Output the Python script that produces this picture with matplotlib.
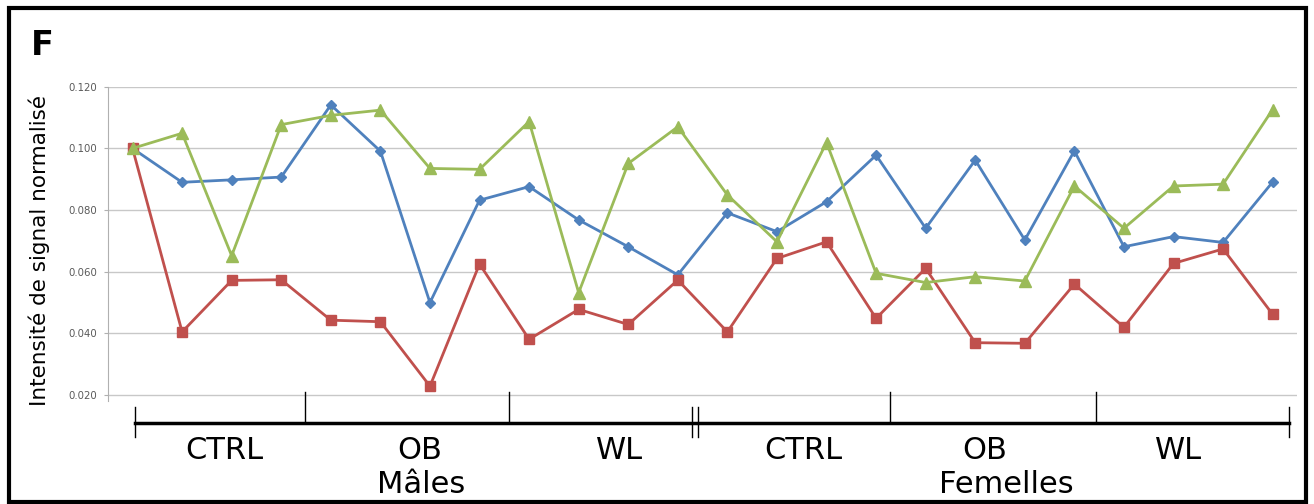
import numpy as np
import matplotlib
matplotlib.use("Agg")
import matplotlib.pyplot as plt
from matplotlib.patches import Rectangle

# values (24 samples, males then females)
blue = [0.100, 0.089, 0.0898, 0.0907, 0.1141, 0.0991, 0.0500, 0.0832,
        0.0876, 0.0768, 0.0681, 0.0590, 0.0791, 0.0730, 0.0827, 0.0978,
        0.0741, 0.0962, 0.0703, 0.0992, 0.0681, 0.0714, 0.0695, 0.0891]
red = [0.100, 0.0405, 0.0572, 0.0574, 0.0443, 0.0438, 0.0229, 0.0625,
       0.0381, 0.0478, 0.0429, 0.0573, 0.0405, 0.0643, 0.0697, 0.0449,
       0.0611, 0.0370, 0.0368, 0.0560, 0.0420, 0.0627, 0.0674, 0.0462]
green = [0.100, 0.1049, 0.0652, 0.1077, 0.1107, 0.1124, 0.0935, 0.0932,
         0.1087, 0.0532, 0.0951, 0.1070, 0.0849, 0.0697, 0.1019, 0.0595,
         0.0565, 0.0584, 0.0570, 0.0878, 0.0741, 0.0878, 0.0884, 0.1126]

yticks = [0.020, 0.040, 0.060, 0.080, 0.100, 0.120]
groups = ["CTRL", "OB", "WL", "CTRL", "OB", "WL"]
sexes = ["Mâles", "Femelles"]

# hand drawn bracket under the chart (x in sample units)
group_pos = [1.86, 5.79, 9.82, 13.53, 17.2, 21.1]
sex_pos = [5.83, 17.63]
inner_ticks = [3.48, 7.59, 15.29, 19.43]
outer_ticks = [0.05, 11.29, 11.41, 23.32]

plt.rcParams['font.family'] = ['DejaVu Sans']

fig = plt.figure(figsize=(13.14, 5.04), dpi=100)
ax = fig.add_axes([0.082, 0.2044, 0.9054, 0.6236])

x = np.arange(len(blue))
ax.plot(x, blue, color='#4F81BD', lw=2, marker='D', ms=5.5, zorder=3)
ax.plot(x, red, color='#C0504D', lw=2, marker='s', ms=7, zorder=3)
ax.plot(x, green, color='#9BBB59', lw=2, marker='^', ms=8, zorder=3)

ax.set_xlim(-0.5, len(blue) - 0.5)
ax.set_ylim(0.0181, 0.120)
ax.set_yticks(yticks)
ax.set_yticklabels(['{:.3f}'.format(v) for v in yticks])
ax.set_xticks([])
ax.grid(axis='y', color='#c8c8c8', lw=1.0)
ax.set_axisbelow(True)
for s in ['top', 'right', 'bottom']:
    ax.spines[s].set_visible(False)
ax.spines['left'].set_color('#b0b0b0')
ax.tick_params(axis='y', length=3, color='#b0b0b0', labelsize=7.3,
               labelcolor='#595959', pad=4.5)

ax.set_ylabel("Intensité de signal normalisé", fontsize=15.5)
ax.yaxis.set_label_coords(-0.0485, 0.48)

# bracket
tr = ax.get_xaxis_transform()
ax.plot([outer_ticks[0], outer_ticks[-1]], [-0.069, -0.069], color='black',
        lw=2.5, transform=tr, clip_on=False)
for p in outer_ticks:
    ax.plot([p, p], [-0.018, -0.114], color='black', lw=1,
            transform=tr, clip_on=False)
for p in inner_ticks:
    ax.plot([p, p], [0.030, -0.069], color='black', lw=1,
            transform=tr, clip_on=False)
for p, g in zip(group_pos, groups):
    ax.text(p, -0.159, g, transform=tr, ha='center', va='center', fontsize=22)
for p, s in zip(sex_pos, sexes):
    ax.text(p, -0.267, s, transform=tr, ha='center', va='center', fontsize=22)

fig.text(31 / 1314, 1 - 55 / 504, "F", fontsize=24, fontweight='bold',
         va='baseline', ha='left')

fig.patches.append(Rectangle((9 / 1314, 2 / 504), 1297 / 1314, 494 / 504,
                             transform=fig.transFigure, fill=False,
                             edgecolor='black', lw=3))

fig.savefig("out.png", dpi=100)
